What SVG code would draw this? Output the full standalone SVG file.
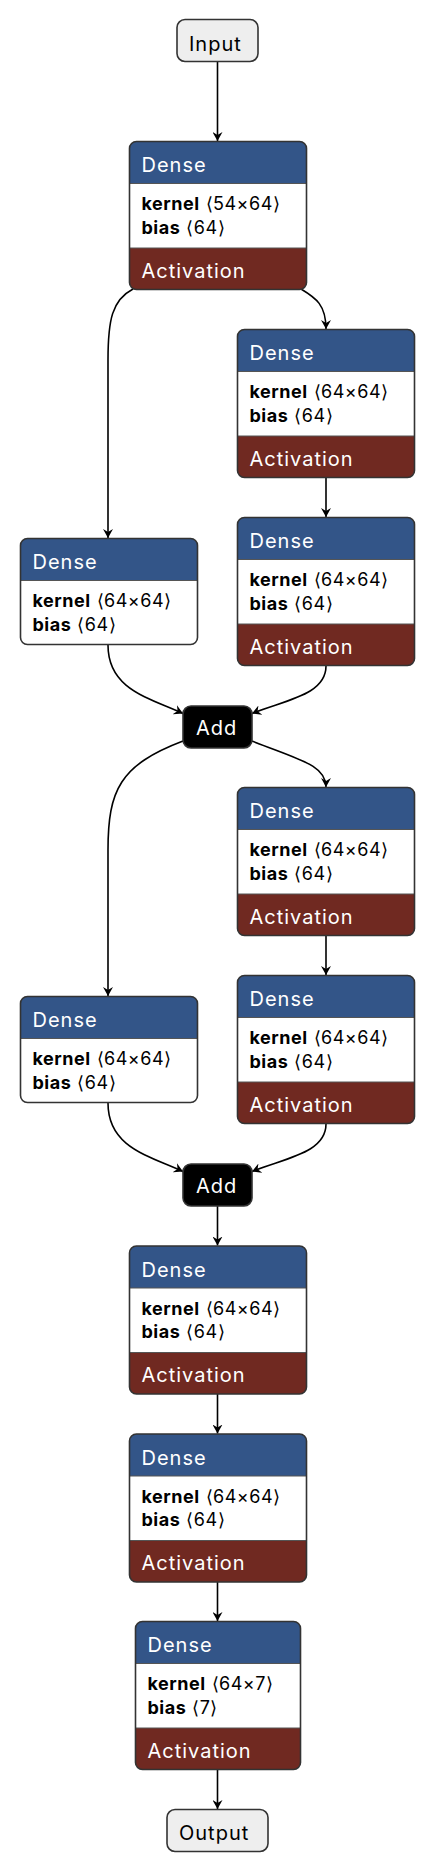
<svg xmlns="http://www.w3.org/2000/svg" width="436" height="1872" viewBox="0 0 436 1872">
<defs>
<style>
.hdr{fill:#335588}
.act{fill:#702921}
.wht{fill:#ffffff}
.div{stroke:#555;stroke-width:1}
.border{fill:none;stroke:#333;stroke-width:1.6}
.title{font-family:Inter,"Liberation Sans",sans-serif;font-size:20px;letter-spacing:1px;fill:#ffffff}
.at{font-family:Inter,"Liberation Sans",sans-serif;font-size:18px;letter-spacing:0.5px;fill:#000}
.b{font-weight:bold}
.io{fill:#eeeeee;stroke:#333;stroke-width:1.6}
.iot{font-family:Inter,"Liberation Sans",sans-serif;font-size:20px;letter-spacing:1px;fill:#000}
.addr{fill:#000;stroke:#333;stroke-width:1.6}
.edge{fill:none;stroke:#000;stroke-width:1.6;marker-end:url(#arr)}
</style>
<marker id="arr" markerUnits="userSpaceOnUse" markerWidth="10" markerHeight="10" refX="9" refY="5" orient="auto" viewBox="0 0 10 10">
<path d="M0 0L9 5L0 10L3 5Z" fill="#000"/>
</marker>
</defs>

<g id="connectors">
<path class="edge" d="M217.5 61.5V141"/>
<path class="edge" d="M301 289C316 298 326 305 326 329"/>
<path class="edge" d="M133 289C112 300 108 320 108 360V538"/>
<path class="edge" d="M326 477.5V517"/>
<path class="edge" d="M108 645C108 690 150 698 183 713.5"/>
<path class="edge" d="M326 666C326 695 285 700 252 713.5"/>
<path class="edge" d="M183 741C120 765 108 790 108 850V996"/>
<path class="edge" d="M252 741C300 760 326 765 326 787"/>
<path class="edge" d="M326 935.5V975"/>
<path class="edge" d="M108 1103C108 1148 150 1156 183 1171.5"/>
<path class="edge" d="M326 1124C326 1153 285 1158 252 1171.5"/>
<path class="edge" d="M217.5 1206V1245.5"/>
<path class="edge" d="M217.5 1394V1433.5"/>
<path class="edge" d="M217.5 1582V1621"/>
<path class="edge" d="M217.5 1769.5V1809"/>
</g>

<g id="input">
<rect class="io" x="177" y="19.5" width="81" height="42" rx="8"/>
<text class="iot" x="189" y="51">Input</text>
</g>

<g id="dense1" transform="translate(129.5,141.5)">
<path class="hdr" d="M0 42V7A7 7 0 0 1 7 0H170A7 7 0 0 1 177 7V42Z"/>
<rect class="wht" x="0" y="42" width="177" height="64.5"/>
<path class="act" d="M0 106.5H177V141A7 7 0 0 1 170 148H7A7 7 0 0 1 0 141Z"/>
<line class="div" x1="0" y1="42" x2="177" y2="42"/>
<line class="div" x1="0" y1="106.5" x2="177" y2="106.5"/>
<rect class="border" width="177" height="148" rx="7"/>
<text class="title" x="12" y="30.5">Dense</text>
<text class="at" x="12" y="68.5"><tspan class="b">kernel</tspan><tspan dx="6">⟨54×64⟩</tspan></text>
<text class="at" x="12" y="92"><tspan class="b">bias</tspan><tspan dx="6">⟨64⟩</tspan></text>
<text class="title" x="12" y="136">Activation</text>
</g>

<g id="dense_ra1" transform="translate(237.5,329.5)">
<path class="hdr" d="M0 42V7A7 7 0 0 1 7 0H170A7 7 0 0 1 177 7V42Z"/>
<rect class="wht" x="0" y="42" width="177" height="64.5"/>
<path class="act" d="M0 106.5H177V141A7 7 0 0 1 170 148H7A7 7 0 0 1 0 141Z"/>
<line class="div" x1="0" y1="42" x2="177" y2="42"/>
<line class="div" x1="0" y1="106.5" x2="177" y2="106.5"/>
<rect class="border" width="177" height="148" rx="7"/>
<text class="title" x="12" y="30.5">Dense</text>
<text class="at" x="12" y="68.5"><tspan class="b">kernel</tspan><tspan dx="6">⟨64×64⟩</tspan></text>
<text class="at" x="12" y="92"><tspan class="b">bias</tspan><tspan dx="6">⟨64⟩</tspan></text>
<text class="title" x="12" y="136">Activation</text>
</g>

<g id="dense_rb1" transform="translate(237.5,517.5)">
<path class="hdr" d="M0 42V7A7 7 0 0 1 7 0H170A7 7 0 0 1 177 7V42Z"/>
<rect class="wht" x="0" y="42" width="177" height="64.5"/>
<path class="act" d="M0 106.5H177V141A7 7 0 0 1 170 148H7A7 7 0 0 1 0 141Z"/>
<line class="div" x1="0" y1="42" x2="177" y2="42"/>
<line class="div" x1="0" y1="106.5" x2="177" y2="106.5"/>
<rect class="border" width="177" height="148" rx="7"/>
<text class="title" x="12" y="30.5">Dense</text>
<text class="at" x="12" y="68.5"><tspan class="b">kernel</tspan><tspan dx="6">⟨64×64⟩</tspan></text>
<text class="at" x="12" y="92"><tspan class="b">bias</tspan><tspan dx="6">⟨64⟩</tspan></text>
<text class="title" x="12" y="136">Activation</text>
</g>

<g id="dense_l1" transform="translate(20.5,538.5)">
<path class="hdr" d="M0 42V7A7 7 0 0 1 7 0H170A7 7 0 0 1 177 7V42Z"/>
<path class="wht" d="M0 42H177V99A7 7 0 0 1 170 106H7A7 7 0 0 1 0 99Z"/>
<line class="div" x1="0" y1="42" x2="177" y2="42"/>
<rect class="border" width="177" height="106" rx="7"/>
<text class="title" x="12" y="30.5">Dense</text>
<text class="at" x="12" y="68.5"><tspan class="b">kernel</tspan><tspan dx="6">⟨64×64⟩</tspan></text>
<text class="at" x="12" y="92"><tspan class="b">bias</tspan><tspan dx="6">⟨64⟩</tspan></text>
</g>

<g id="add1">
<rect class="addr" x="183" y="706" width="69" height="42" rx="8"/>
<text class="title" x="196" y="735">Add</text>
</g>

<g id="dense_ra2" transform="translate(237.5,787.5)">
<path class="hdr" d="M0 42V7A7 7 0 0 1 7 0H170A7 7 0 0 1 177 7V42Z"/>
<rect class="wht" x="0" y="42" width="177" height="64.5"/>
<path class="act" d="M0 106.5H177V141A7 7 0 0 1 170 148H7A7 7 0 0 1 0 141Z"/>
<line class="div" x1="0" y1="42" x2="177" y2="42"/>
<line class="div" x1="0" y1="106.5" x2="177" y2="106.5"/>
<rect class="border" width="177" height="148" rx="7"/>
<text class="title" x="12" y="30.5">Dense</text>
<text class="at" x="12" y="68.5"><tspan class="b">kernel</tspan><tspan dx="6">⟨64×64⟩</tspan></text>
<text class="at" x="12" y="92"><tspan class="b">bias</tspan><tspan dx="6">⟨64⟩</tspan></text>
<text class="title" x="12" y="136">Activation</text>
</g>

<g id="dense_rb2" transform="translate(237.5,975.5)">
<path class="hdr" d="M0 42V7A7 7 0 0 1 7 0H170A7 7 0 0 1 177 7V42Z"/>
<rect class="wht" x="0" y="42" width="177" height="64.5"/>
<path class="act" d="M0 106.5H177V141A7 7 0 0 1 170 148H7A7 7 0 0 1 0 141Z"/>
<line class="div" x1="0" y1="42" x2="177" y2="42"/>
<line class="div" x1="0" y1="106.5" x2="177" y2="106.5"/>
<rect class="border" width="177" height="148" rx="7"/>
<text class="title" x="12" y="30.5">Dense</text>
<text class="at" x="12" y="68.5"><tspan class="b">kernel</tspan><tspan dx="6">⟨64×64⟩</tspan></text>
<text class="at" x="12" y="92"><tspan class="b">bias</tspan><tspan dx="6">⟨64⟩</tspan></text>
<text class="title" x="12" y="136">Activation</text>
</g>

<g id="dense_l2" transform="translate(20.5,996.5)">
<path class="hdr" d="M0 42V7A7 7 0 0 1 7 0H170A7 7 0 0 1 177 7V42Z"/>
<path class="wht" d="M0 42H177V99A7 7 0 0 1 170 106H7A7 7 0 0 1 0 99Z"/>
<line class="div" x1="0" y1="42" x2="177" y2="42"/>
<rect class="border" width="177" height="106" rx="7"/>
<text class="title" x="12" y="30.5">Dense</text>
<text class="at" x="12" y="68.5"><tspan class="b">kernel</tspan><tspan dx="6">⟨64×64⟩</tspan></text>
<text class="at" x="12" y="92"><tspan class="b">bias</tspan><tspan dx="6">⟨64⟩</tspan></text>
</g>

<g id="add2">
<rect class="addr" x="183" y="1164" width="69" height="42" rx="8"/>
<text class="title" x="196" y="1193">Add</text>
</g>

<g id="dense_m1" transform="translate(129.5,1246)">
<path class="hdr" d="M0 42V7A7 7 0 0 1 7 0H170A7 7 0 0 1 177 7V42Z"/>
<rect class="wht" x="0" y="42" width="177" height="64.5"/>
<path class="act" d="M0 106.5H177V141A7 7 0 0 1 170 148H7A7 7 0 0 1 0 141Z"/>
<line class="div" x1="0" y1="42" x2="177" y2="42"/>
<line class="div" x1="0" y1="106.5" x2="177" y2="106.5"/>
<rect class="border" width="177" height="148" rx="7"/>
<text class="title" x="12" y="30.5">Dense</text>
<text class="at" x="12" y="68.5"><tspan class="b">kernel</tspan><tspan dx="6">⟨64×64⟩</tspan></text>
<text class="at" x="12" y="92"><tspan class="b">bias</tspan><tspan dx="6">⟨64⟩</tspan></text>
<text class="title" x="12" y="136">Activation</text>
</g>

<g id="dense_m2" transform="translate(129.5,1434)">
<path class="hdr" d="M0 42V7A7 7 0 0 1 7 0H170A7 7 0 0 1 177 7V42Z"/>
<rect class="wht" x="0" y="42" width="177" height="64.5"/>
<path class="act" d="M0 106.5H177V141A7 7 0 0 1 170 148H7A7 7 0 0 1 0 141Z"/>
<line class="div" x1="0" y1="42" x2="177" y2="42"/>
<line class="div" x1="0" y1="106.5" x2="177" y2="106.5"/>
<rect class="border" width="177" height="148" rx="7"/>
<text class="title" x="12" y="30.5">Dense</text>
<text class="at" x="12" y="68.5"><tspan class="b">kernel</tspan><tspan dx="6">⟨64×64⟩</tspan></text>
<text class="at" x="12" y="92"><tspan class="b">bias</tspan><tspan dx="6">⟨64⟩</tspan></text>
<text class="title" x="12" y="136">Activation</text>
</g>

<g id="dense_m3" transform="translate(135.5,1621.5)">
<path class="hdr" d="M0 42V7A7 7 0 0 1 7 0H158A7 7 0 0 1 165 7V42Z"/>
<rect class="wht" x="0" y="42" width="165" height="64.5"/>
<path class="act" d="M0 106.5H165V141A7 7 0 0 1 158 148H7A7 7 0 0 1 0 141Z"/>
<line class="div" x1="0" y1="42" x2="165" y2="42"/>
<line class="div" x1="0" y1="106.5" x2="165" y2="106.5"/>
<rect class="border" width="165" height="148" rx="7"/>
<text class="title" x="12" y="30.5">Dense</text>
<text class="at" x="12" y="68.5"><tspan class="b">kernel</tspan><tspan dx="6">⟨64×7⟩</tspan></text>
<text class="at" x="12" y="92"><tspan class="b">bias</tspan><tspan dx="6">⟨7⟩</tspan></text>
<text class="title" x="12" y="136">Activation</text>
</g>

<g id="output">
<rect class="io" x="167" y="1809.5" width="101" height="42" rx="8"/>
<text class="iot" x="179" y="1840">Output</text>
</g>
</svg>
